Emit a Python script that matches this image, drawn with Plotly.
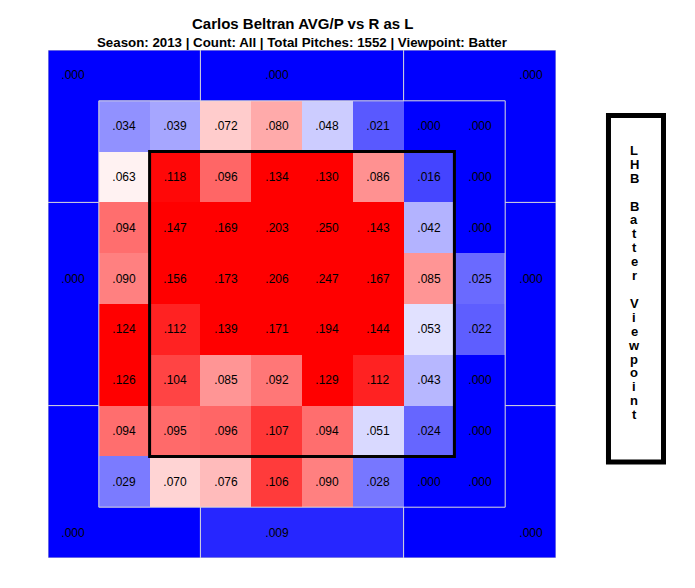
import plotly.graph_objects as go

# ---------------- data ----------------
title_text = "Carlos Beltran AVG/P vs R as L"
subtitle_text = "Season: 2013 | Count: All | Total Pitches: 1552 | Viewpoint: Batter"
side_text = "LHB Batter Viewpoint"

# inner 8x8 grid, top row first, left column first (batter viewpoint)
avg_inner = [
    [0.034, 0.039, 0.072, 0.080, 0.048, 0.021, 0.000, 0.000],
    [0.063, 0.118, 0.096, 0.134, 0.130, 0.086, 0.016, 0.000],
    [0.094, 0.147, 0.169, 0.203, 0.250, 0.143, 0.042, 0.000],
    [0.090, 0.156, 0.173, 0.206, 0.247, 0.167, 0.085, 0.025],
    [0.124, 0.112, 0.139, 0.171, 0.194, 0.144, 0.053, 0.022],
    [0.126, 0.104, 0.085, 0.092, 0.129, 0.112, 0.043, 0.000],
    [0.094, 0.095, 0.096, 0.107, 0.094, 0.051, 0.024, 0.000],
    [0.029, 0.070, 0.076, 0.106, 0.090, 0.028, 0.000, 0.000],
]

# outer zones: [top, middle, bottom] x [left, middle, right]
avg_outer = [
    [0.000, 0.000, 0.000],
    [0.000, None, 0.000],
    [0.000, 0.009, 0.000],
]
# cell (row, col) of the 10x10 grid where each outer zone label sits
outer_label_cells = [
    [(0, 0), (0, 4), (0, 9)],
    [(4, 0), None, (4, 9)],
    [(9, 0), (9, 4), (9, 9)],
]
band_splits = [3, 7]  # outer zone boundaries in grid units

N = 10


def fmt(v):
    return ("%.3f" % v)[1:] if v < 1 else "%.3f" % v


def band(i):
    if i < band_splits[0]:
        return 0
    if i < band_splits[1]:
        return 1
    return 2


z = [[None] * N for _ in range(N)]
txt = [[""] * N for _ in range(N)]
for r in range(N):
    for c in range(N):
        if 1 <= r <= 8 and 1 <= c <= 8:
            v = avg_inner[r - 1][c - 1]
            z[r][c] = v
            txt[r][c] = fmt(v)
        else:
            z[r][c] = avg_outer[band(r)][band(c)]
for br in range(3):
    for bc in range(3):
        cell = outer_label_cells[br][bc]
        if cell is not None:
            txt[cell[0]][cell[1]] = fmt(avg_outer[br][bc])

centers = [i + 0.5 for i in range(N)]

fig = go.Figure(
    go.Heatmap(
        z=z,
        x=centers,
        y=centers,
        text=txt,
        texttemplate="%{text}",
        textfont=dict(family="Liberation Sans, Arial", size=12, color="black"),
        colorscale=[[0, "#0000ff"], [0.5, "#ffffff"], [1, "#ff0000"]],
        zmin=0,
        zmax=0.12,
        showscale=False,
        hoverinfo="skip",
    )
)

line_col = "#dcdcdc"
shapes = []
for s in band_splits:
    # top & bottom bands: vertical separators
    shapes.append(dict(type="line", x0=s, x1=s, y0=0, y1=1, line=dict(color=line_col, width=1)))
    shapes.append(dict(type="line", x0=s, x1=s, y0=N - 1, y1=N, line=dict(color=line_col, width=1)))
    # left & right bands: horizontal separators
    shapes.append(dict(type="line", y0=s, y1=s, x0=0, x1=1, line=dict(color=line_col, width=1)))
    shapes.append(dict(type="line", y0=s, y1=s, x0=N - 1, x1=N, line=dict(color=line_col, width=1)))
# inner grid border
shapes.append(dict(type="rect", x0=1, x1=N - 1, y0=1, y1=N - 1, line=dict(color=line_col, width=1)))
# outer border
shapes.append(dict(type="rect", x0=0, x1=N, y0=0, y1=N, line=dict(color="#cccccc", width=1)))
# strike zone
shapes.append(dict(type="rect", x0=2, x1=N - 2, y0=2, y1=N - 2, line=dict(color="black", width=3)))
# side box
shapes.append(dict(type="rect", xref="paper", yref="paper", x0=1.1033, x1=1.2116, y0=0.189, y1=0.871,
                   line=dict(color="black", width=5), fillcolor="white"))

annotations = [
    dict(text="<b>%s</b>" % title_text, xref="paper", yref="paper", x=0.5, y=1.053,
         xanchor="center", yanchor="middle", showarrow=False,
         font=dict(family="Liberation Sans, Arial", size=15, color="black")),
    dict(text="<b>%s</b>" % subtitle_text, xref="paper", yref="paper", x=0.5, y=1.0157,
         xanchor="center", yanchor="middle", showarrow=False,
         font=dict(family="Liberation Sans, Arial", size=13.3, color="black")),
]
# vertical stacked letters
top_px, step_px, plot_top, plot_h = 150.5, 13.9, 50, 508
for i, ch in enumerate(side_text):
    if ch == " ":
        continue
    ypx = top_px + i * step_px
    annotations.append(dict(text="<b>%s</b>" % ch, xref="paper", yref="paper",
                            x=(634 - 48) / plot_h, y=(plot_top + plot_h - ypx) / plot_h,
                            xanchor="center", yanchor="middle", showarrow=False,
                            font=dict(family="Liberation Sans, Arial", size=13, color="black")))

fig.update_layout(
    width=695,
    height=588,
    margin=dict(l=48, r=139, t=50, b=30),
    paper_bgcolor="white",
    plot_bgcolor="white",
    xaxis=dict(range=[0, N], visible=False, fixedrange=True),
    yaxis=dict(range=[N, 0], visible=False, fixedrange=True),
    shapes=shapes,
    annotations=annotations,
    showlegend=False,
)

fig.write_html("out.html")
